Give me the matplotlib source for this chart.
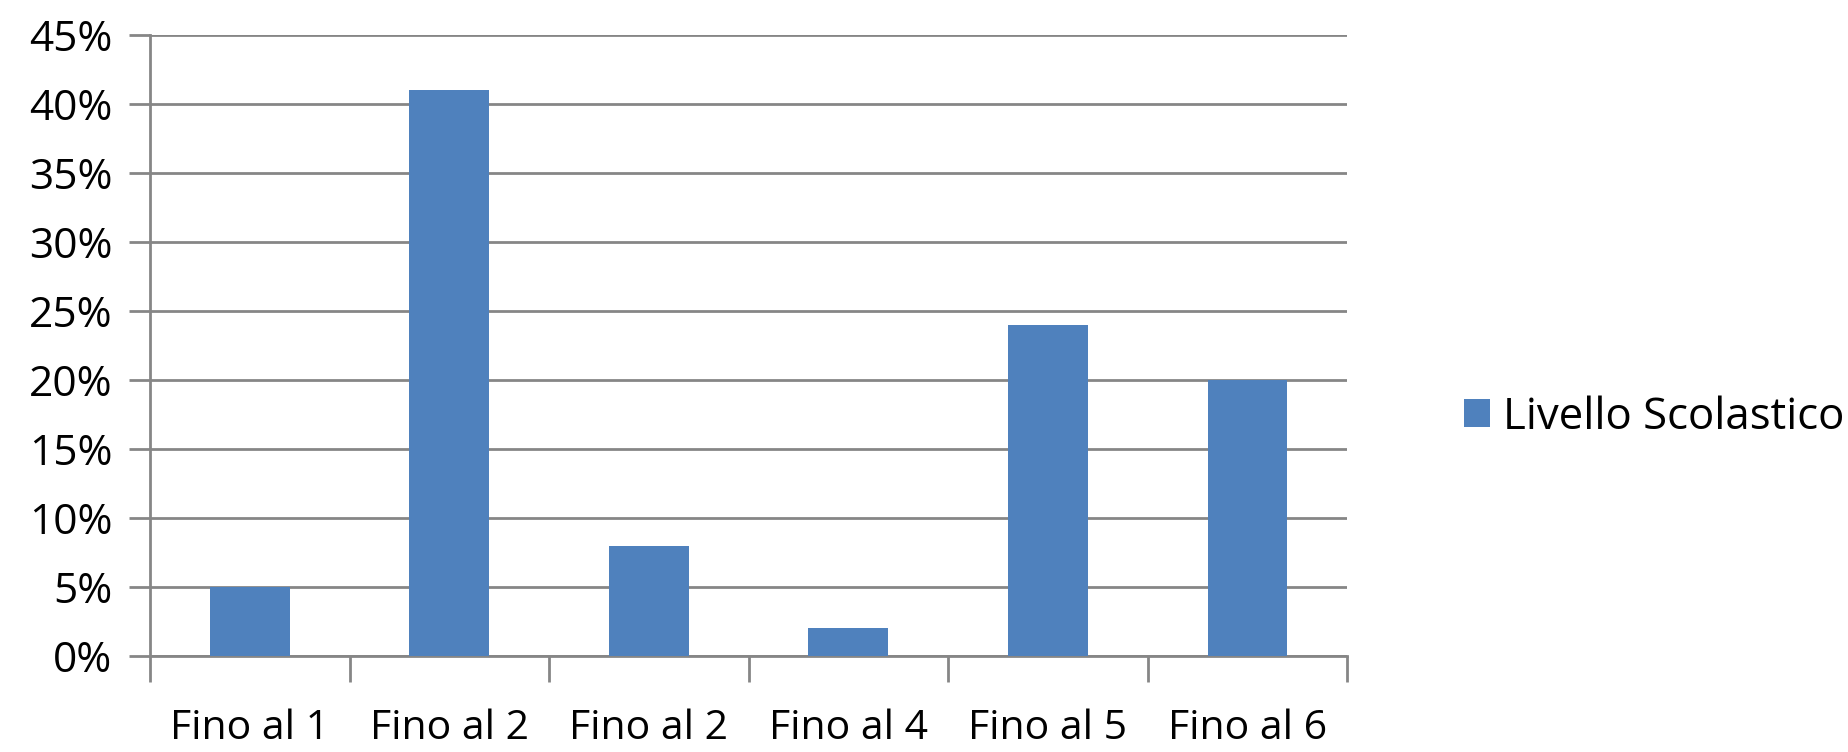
import numpy as np
import matplotlib.pyplot as plt
from matplotlib.ticker import FuncFormatter

categorie = ["Fino al 1", "Fino al 2", "Fino al 2", "Fino al 4", "Fino al 5", "Fino al 6"]
valori = [5, 41, 8, 2, 24, 20]
serie = "Livello Scolastico"

plt.rcParams['font.family'] = ['Open Sans', 'DejaVu Sans']
grigio = '#868686'
blu = '#4F81BD'

fig = plt.figure(figsize=(18.48, 7.52), dpi=100)
ax = fig.add_axes([0.0812, 0.1277, 0.6478, 0.8258])

x = np.arange(len(categorie))
ax.bar(x, valori, width=0.4, color=blu, label=serie, zorder=3)

ax.set_xlim(-0.5, len(categorie) - 0.5)
ax.set_ylim(0, 45)
ax.set_yticks(np.arange(0, 46, 5))
ax.yaxis.set_major_formatter(FuncFormatter(lambda v, p: f"{v:.0f}%"))
ax.grid(axis='y', color=grigio, linewidth=2, zorder=0)

# tacche ai bordi delle categorie, etichette al centro
ax.set_xticks(np.arange(-0.5, len(categorie), 1))
ax.set_xticklabels([])
ax.set_xticks(x, minor=True)
ax.set_xticklabels(categorie, minor=True)
ax.tick_params(axis='x', which='major', length=19, width=2, color=grigio)
ax.tick_params(axis='x', which='minor', length=0, pad=38, labelsize=29.5)
ax.tick_params(axis='y', length=15, width=2, color=grigio, labelsize=30.5, pad=12)

for s in ['top', 'right']:
    ax.spines[s].set_visible(False)
for s in ['left', 'bottom']:
    ax.spines[s].set_color(grigio)
    ax.spines[s].set_linewidth(2)

fig.legend(loc='center left', bbox_to_anchor=(0.792, 0.445), frameon=False,
           borderpad=0, borderaxespad=0, fontsize=31.5,
           handlelength=0.6, handleheight=0.6, handletextpad=0.3)

fig.savefig('out.png', dpi=100, facecolor='white')
